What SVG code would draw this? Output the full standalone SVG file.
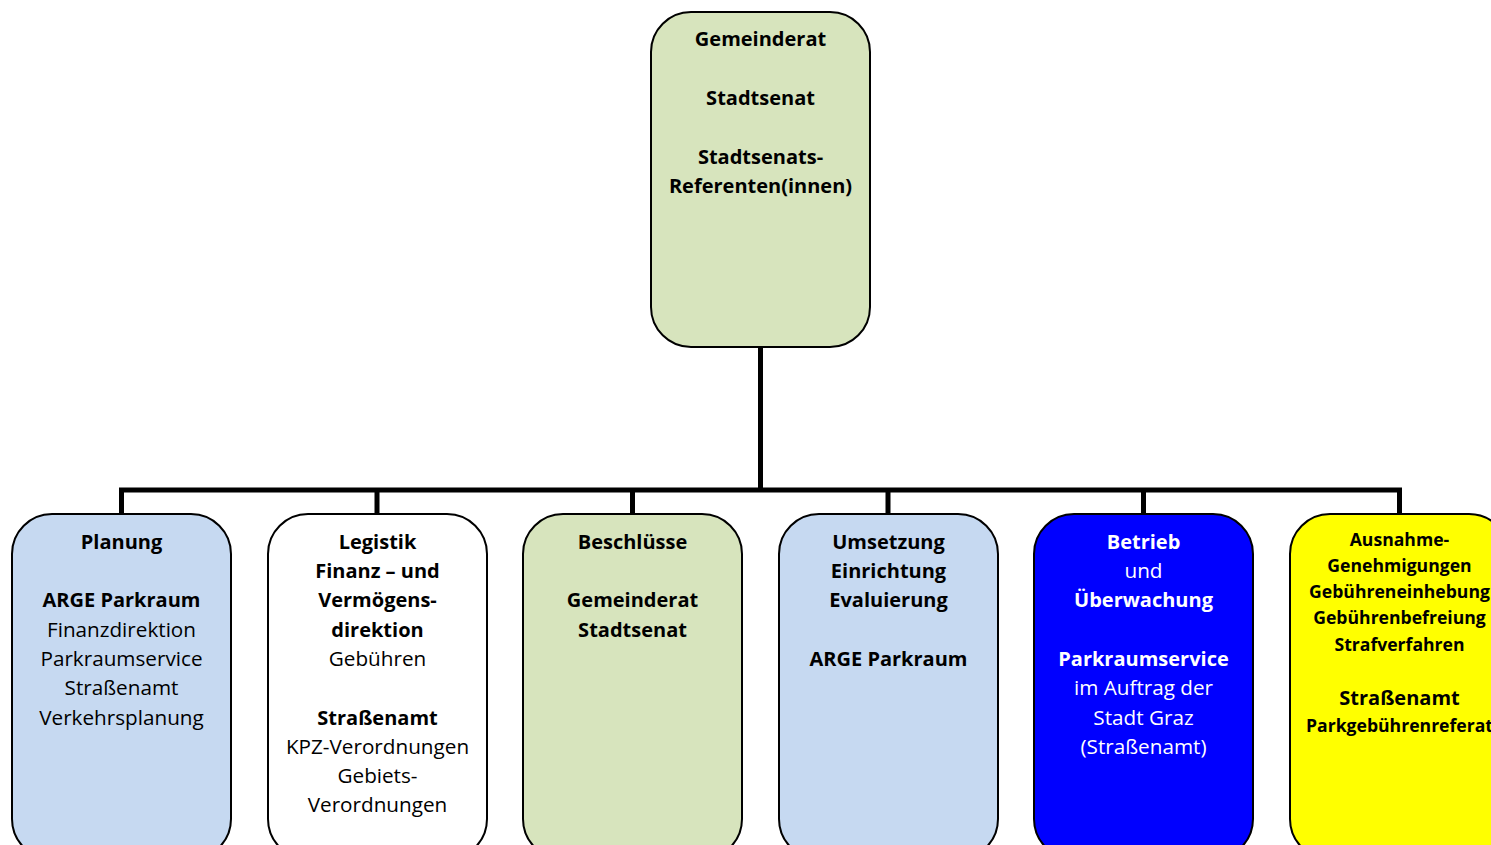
<svg xmlns="http://www.w3.org/2000/svg" width="1491" height="845" viewBox="0 0 1491 845">
<style>
.box{stroke:#000;stroke-width:2}
text{font-family:"Open Sans","Noto Sans",sans-serif;font-size:20.7px;text-anchor:middle;fill:#000}
.b{font-weight:bold;font-size:20px}
.w{fill:#fff}
.s{font-size:17.6px}
.conn{fill:none;stroke:#000;stroke-width:5}
</style>
<rect width="1491" height="845" fill="#fff"/>
<g id="connectors">
<path class="conn" d="M760.5 347V490M121.5 514V490H1399.5V514M377 490V514M632.5 490V514M888 490V514M1143.5 490V514"/>
</g>
<g id="top">
<rect class="box" x="651" y="12" width="219" height="335" rx="40" fill="#D7E4BD"/>
<text class="b"><tspan x="760.5" y="46">Gemeinderat</tspan><tspan x="760.5" y="105">Stadtsenat</tspan><tspan x="760.5" y="164">Stadtsenats-</tspan><tspan x="760.5" y="193">Referenten(innen)</tspan></text>
</g>
<g id="planung">
<rect class="box" x="12" y="514" width="219" height="345" rx="40" fill="#C6D9F1"/>
<text><tspan x="121.5" y="549" class="b">Planung</tspan><tspan x="121.5" y="607" class="b">ARGE Parkraum</tspan><tspan x="121.5" y="637">Finanzdirektion</tspan><tspan x="121.5" y="666">Parkraumservice</tspan><tspan x="121.5" y="695">Straßenamt</tspan><tspan x="121.5" y="725">Verkehrsplanung</tspan></text>
</g>
<g id="legistik">
<rect class="box" x="268" y="514" width="219" height="345" rx="40" fill="#fff"/>
<text><tspan x="377.5" y="549" class="b">Legistik</tspan><tspan x="377.5" y="578" class="b">Finanz – und</tspan><tspan x="377.5" y="607" class="b">Vermögens-</tspan><tspan x="377.5" y="637" class="b">direktion</tspan><tspan x="377.5" y="666">Gebühren</tspan><tspan x="377.5" y="725" class="b">Straßenamt</tspan><tspan x="377.5" y="754">KPZ-Verordnungen</tspan><tspan x="377.5" y="783">Gebiets-</tspan><tspan x="377.5" y="812">Verordnungen</tspan></text>
</g>
<g id="beschluesse">
<rect class="box" x="523" y="514" width="219" height="345" rx="40" fill="#D7E4BD"/>
<text class="b"><tspan x="632.5" y="549">Beschlüsse</tspan><tspan x="632.5" y="607">Gemeinderat</tspan><tspan x="632.5" y="637">Stadtsenat</tspan></text>
</g>
<g id="umsetzung">
<rect class="box" x="779" y="514" width="219" height="345" rx="40" fill="#C6D9F1"/>
<text class="b"><tspan x="888.5" y="549">Umsetzung</tspan><tspan x="888.5" y="578">Einrichtung</tspan><tspan x="888.5" y="607">Evaluierung</tspan><tspan x="888.5" y="666">ARGE Parkraum</tspan></text>
</g>
<g id="betrieb">
<rect class="box" x="1034" y="514" width="219" height="345" rx="40" fill="#0000FF"/>
<text><tspan x="1143.5" y="549" class="b w">Betrieb</tspan><tspan x="1143.5" y="578" class="w">und</tspan><tspan x="1143.5" y="607" class="b w">Überwachung</tspan><tspan x="1143.5" y="666" class="b w">Parkraumservice</tspan><tspan x="1143.5" y="695" class="w">im Auftrag der</tspan><tspan x="1143.5" y="725" class="w">Stadt Graz</tspan><tspan x="1143.5" y="754" class="w">(Straßenamt)</tspan></text>
</g>
<g id="ausnahme">
<rect class="box" x="1290" y="514" width="219" height="345" rx="40" fill="#FFFF00"/>
<text class="b"><tspan x="1399.5" y="546" class="s">Ausnahme-</tspan><tspan x="1399.5" y="572" class="s">Genehmigungen</tspan><tspan x="1399.5" y="598" class="s">Gebühreneinhebung</tspan><tspan x="1399.5" y="624" class="s">Gebührenbefreiung</tspan><tspan x="1399.5" y="651" class="s">Strafverfahren</tspan><tspan x="1399.5" y="705">Straßenamt</tspan><tspan x="1399.5" y="732" class="s">Parkgebührenreferat</tspan></text>
</g>
</svg>
